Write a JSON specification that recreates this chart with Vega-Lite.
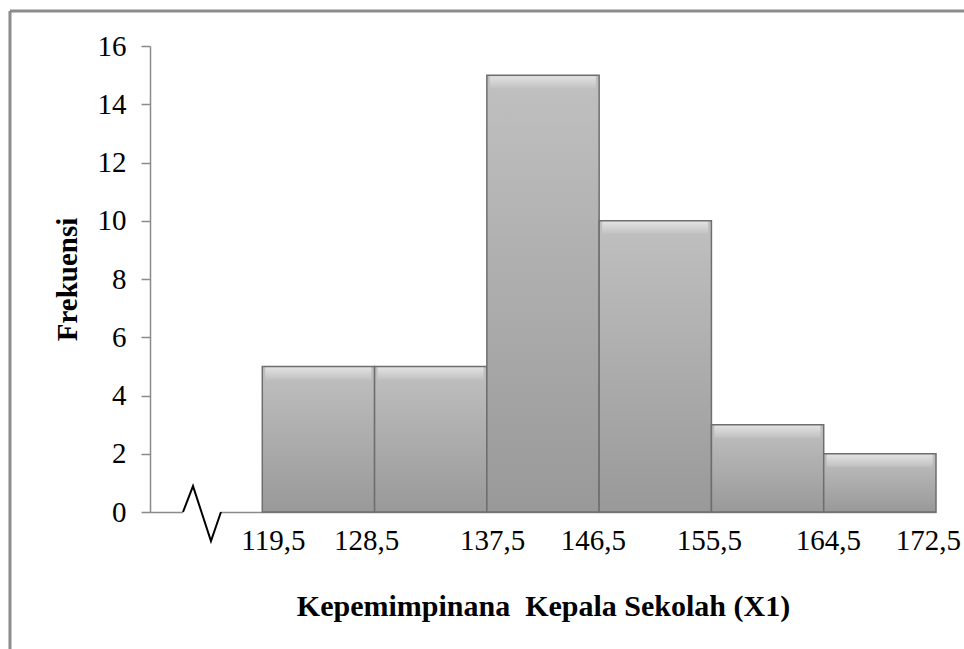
{
  "$schema": "https://vega.github.io/schema/vega-lite/v6.json",
  "width": 786,
  "height": 466,
  "autosize": {"type": "none"},
  "padding": {"left": 150, "top": 46, "right": 28, "bottom": 137},
  "background": "white",
  "config": {
    "view": {"stroke": null},
    "font": "Liberation Serif",
    "axis": {"labelFont": "Liberation Serif", "titleFont": "Liberation Serif", "labelColor": "black", "titleColor": "black", "grid": false}
  },
  "datasets": {
    "freq": [
      {"kelas": 0, "batas_akhir": 1, "frekuensi": 5},
      {"kelas": 1, "batas_akhir": 2, "frekuensi": 5},
      {"kelas": 2, "batas_akhir": 3, "frekuensi": 15},
      {"kelas": 3, "batas_akhir": 4, "frekuensi": 10},
      {"kelas": 4, "batas_akhir": 5, "frekuensi": 3},
      {"kelas": 5, "batas_akhir": 6, "frekuensi": 2}
    ],
    "brk": [
      {"kelas": -0.706, "frekuensi": 0, "o": 0},
      {"kelas": -0.617, "frekuensi": 0.89, "o": 1},
      {"kelas": -0.457, "frekuensi": -1.0, "o": 2},
      {"kelas": -0.368, "frekuensi": 0, "o": 3}
    ],
    "one": [{"k": 1}]
  },
  "layer": [
    {
      "data": {"name": "freq"},
      "mark": {
        "type": "bar",
        "stroke": "#6e6e6e",
        "strokeWidth": 1.5,
        "color": {
          "gradient": "linear", "x1": 0, "y1": 0, "x2": 0, "y2": 1,
          "stops": [{"offset": 0, "color": "#c0c0c0"}, {"offset": 1, "color": "#999999"}]
        }
      },
      "encoding": {
        "x": {
          "field": "kelas", "type": "quantitative",
          "scale": {"domain": [-1, 6], "nice": false, "zero": false},
          "axis": {
            "values": [0.095, 0.924, 2.046, 2.945, 3.978, 5.038, 5.928],
            "labelExpr": "['119,5','128,5','137,5','146,5','155,5','164,5','172,5'][round(datum.value)]",
            "ticks": false,
            "labelFont": "Liberation Serif",
            "labelFontSize": 29,
            "labelPadding": 14,
            "labelFlush": false,
            "labelOverlap": false,
            "labelBound": false,
            "domainColor": "#8a8a8a",
            "domainWidth": 1.5,
            "title": "Kepemimpinana\u00a0 Kepala Sekolah (X1)",
            "titleFont": "Liberation Serif",
            "titleFontSize": 30,
            "titleFontWeight": "bold",
            "titlePadding": 36
          }
        },
        "x2": {"field": "batas_akhir"},
        "y": {
          "field": "frekuensi", "type": "quantitative",
          "scale": {"domain": [0, 16], "nice": false},
          "axis": {
            "values": [0, 2, 4, 6, 8, 10, 12, 14, 16],
            "tickSize": 9,
            "tickColor": "#8a8a8a",
            "tickWidth": 1.5,
            "domainColor": "#8a8a8a",
            "domainWidth": 1.5,
            "labelFont": "Liberation Serif",
            "labelFontSize": 29,
            "labelPadding": 15,
            "labelFlush": false,
            "labelOverlap": false,
            "title": "Frekuensi",
            "titleFont": "Liberation Serif",
            "titleFontSize": 29,
            "titleFontWeight": "bold",
            "titlePadding": 15
          }
        },
        "y2": {"datum": 0}
      }
    },
    {
      "data": {"name": "freq"},
      "mark": {
        "type": "tick",
        "orient": "horizontal",
        "thickness": 12,
        "size": 106,
        "yOffset": 7,
        "xOffset": 56,
        "color": {
          "gradient": "linear", "x1": 0, "y1": 0, "x2": 0, "y2": 1,
          "stops": [{"offset": 0, "color": "#f0f0f0"}, {"offset": 1, "color": "#c4c4c4"}]
        }
      },
      "encoding": {
        "x": {"field": "kelas", "type": "quantitative"},
        "y": {"field": "frekuensi", "type": "quantitative"}
      }
    },
    {
      "data": {"name": "one"},
      "mark": {"type": "rule", "color": "white", "strokeWidth": 4},
      "encoding": {
        "x": {"datum": -0.706, "type": "quantitative"},
        "x2": {"datum": -0.368},
        "y": {"datum": 0, "type": "quantitative"}
      }
    },
    {
      "data": {"name": "brk"},
      "mark": {"type": "line", "color": "black", "strokeWidth": 2},
      "encoding": {
        "x": {"field": "kelas", "type": "quantitative"},
        "y": {"field": "frekuensi", "type": "quantitative"},
        "order": {"field": "o"}
      }
    },
    {
      "data": {"name": "one"},
      "mark": {"type": "rule", "color": "#8c8c8c", "strokeWidth": 3},
      "encoding": {
        "x": {"datum": -2.247, "type": "quantitative"},
        "y": {"datum": 17.2, "type": "quantitative"},
        "y2": {"datum": -5}
      }
    },
    {
      "data": {"name": "one"},
      "mark": {"type": "rule", "color": "#8c8c8c", "strokeWidth": 3},
      "encoding": {
        "x": {"datum": -2.247, "type": "quantitative"},
        "x2": {"datum": 6.4},
        "y": {"datum": 17.2, "type": "quantitative"}
      }
    }
  ]
}
